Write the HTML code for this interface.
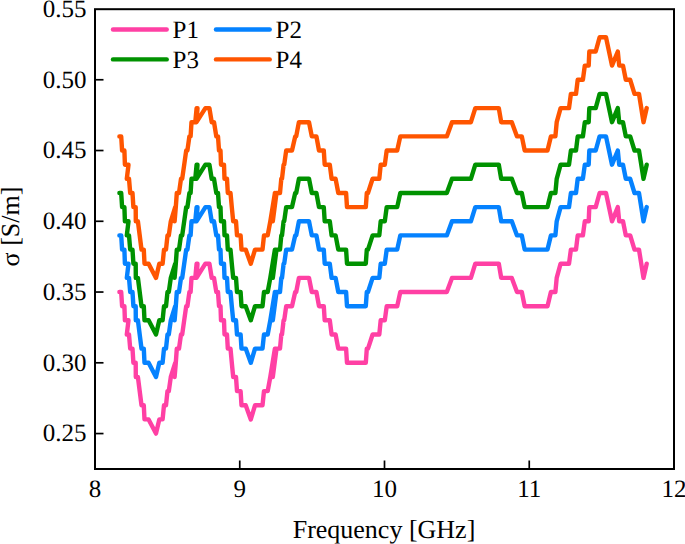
<!DOCTYPE html>
<html><head><meta charset="utf-8"><style>
html,body{margin:0;padding:0;background:#fff;}
svg{display:block;}
text{font-family:"Liberation Serif",serif;fill:#000;text-rendering:geometricPrecision;}
</style></head><body>
<svg width="685" height="544" viewBox="0 0 685 544">
<rect width="685" height="544" fill="#fff"/>
<g fill="none" stroke-width="4.4" stroke-linejoin="round" stroke-linecap="round">
<path d="M119.4 292.0 L121.2 292.0 L122.1 306.2 L124.4 306.2 L124.9 320.3 L128.5 320.3 L126.8 334.5 L129.0 334.5 L130.2 348.6 L132.5 348.6 L133.4 362.8 L135.7 362.8 L135.8 377.0 L137.9 377.0 L139.7 391.1 L141.5 405.3 L143.8 405.3 L144.5 419.4 L148.6 419.4 L156.0 433.6 L159.3 419.4 L162.6 419.4 L164.0 405.3 L166.0 405.3 L167.5 391.1 L168.8 391.1 L170.8 377.0 L175.2 362.8 L174.6 377.0 L175.8 362.8 L176.8 348.6 L179.0 348.6 L181.0 334.5 L182.2 334.5 L184.2 320.3 L186.2 306.2 L187.4 306.2 L189.4 292.0 L190.6 292.0 L191.5 277.9 L195.3 277.9 L196.6 263.7 L197.5 263.7 L196.5 277.9 L205.4 263.7 L209.4 263.7 L211.7 277.9 L214.0 277.9 L216.3 292.0 L218.0 292.0 L219.0 306.2 L220.5 306.2 L221.0 320.3 L224.0 320.3 L224.5 334.5 L227.0 334.5 L227.8 348.6 L230.5 348.6 L231.8 362.8 L233.2 377.0 L236.0 377.0 L237.0 391.1 L240.6 391.1 L241.5 405.3 L245.7 405.3 L250.8 419.4 L255.0 405.3 L262.5 405.3 L264.0 391.1 L267.7 391.1 L270.3 377.0 L274.9 348.6 L272.8 377.0 L276.5 348.6 L280.0 348.6 L281.3 334.5 L282.0 334.5 L283.6 320.3 L284.2 320.3 L286.2 306.2 L292.0 306.2 L295.2 292.0 L296.2 292.0 L298.9 277.9 L309.0 277.9 L311.8 292.0 L316.4 292.0 L319.0 306.2 L323.8 306.2 L324.7 320.3 L329.8 320.3 L331.6 334.5 L335.6 334.5 L338.3 348.6 L346.1 348.6 L347.0 362.8 L365.8 362.8 L366.8 348.6 L368.0 348.6 L372.6 334.5 L379.3 334.5 L380.7 320.3 L384.8 320.3 L386.7 306.2 L397.2 306.2 L400.3 292.0 L446.8 292.0 L452.0 277.9 L470.9 277.9 L475.3 263.7 L498.8 263.7 L501.2 277.9 L511.8 277.9 L517.0 292.0 L521.8 292.0 L524.7 306.2 L547.5 306.2 L550.9 292.0 L555.4 292.0 L556.7 277.9 L560.6 263.7 L569.0 263.7 L570.9 249.6 L576.0 249.6 L577.7 235.4 L582.9 235.4 L584.8 221.3 L588.7 221.3 L589.3 207.1 L595.7 207.1 L599.6 193.0 L606.0 193.0 L612.0 221.3 L617.8 207.1 L619.2 221.3 L623.0 221.3 L625.8 235.4 L630.2 235.4 L634.5 249.6 L639.0 249.6 L643.5 277.9 L646.7 263.7" stroke="#ff40a4"/>
<path d="M119.4 235.4 L121.2 235.4 L122.1 249.6 L124.4 249.6 L124.9 263.7 L128.5 263.7 L126.8 277.9 L129.0 277.9 L130.2 292.0 L132.5 292.0 L133.4 306.2 L135.7 306.2 L135.8 320.3 L137.9 320.3 L139.7 334.5 L141.5 348.6 L143.8 348.6 L144.5 362.8 L148.6 362.8 L156.0 377.0 L159.3 362.8 L162.6 362.8 L164.0 348.6 L166.0 348.6 L167.5 334.5 L168.8 334.5 L170.8 320.3 L175.2 306.2 L174.6 320.3 L175.8 306.2 L176.8 292.0 L179.0 292.0 L181.0 277.9 L182.2 277.9 L184.2 263.7 L186.2 249.6 L187.4 249.6 L189.4 235.4 L190.6 235.4 L191.5 221.3 L195.3 221.3 L196.6 207.1 L197.5 207.1 L196.5 221.3 L205.4 207.1 L209.4 207.1 L211.7 221.3 L214.0 221.3 L216.3 235.4 L218.0 235.4 L219.0 249.6 L220.5 249.6 L221.0 263.7 L224.0 263.7 L224.5 277.9 L227.0 277.9 L227.8 292.0 L230.5 292.0 L231.8 306.2 L233.2 320.3 L236.0 320.3 L237.0 334.5 L240.6 334.5 L241.5 348.6 L245.7 348.6 L250.8 362.8 L255.0 348.6 L262.5 348.6 L264.0 334.5 L267.7 334.5 L270.3 320.3 L274.9 292.0 L272.8 320.3 L276.5 292.0 L280.0 292.0 L281.3 277.9 L282.0 277.9 L283.6 263.7 L284.2 263.7 L286.2 249.6 L292.0 249.6 L295.2 235.4 L296.2 235.4 L298.9 221.3 L309.0 221.3 L311.8 235.4 L316.4 235.4 L319.0 249.6 L323.8 249.6 L324.7 263.7 L329.8 263.7 L331.6 277.9 L335.6 277.9 L338.3 292.0 L346.1 292.0 L347.0 306.2 L365.8 306.2 L366.8 292.0 L368.0 292.0 L372.6 277.9 L379.3 277.9 L380.7 263.7 L384.8 263.7 L386.7 249.6 L397.2 249.6 L400.3 235.4 L446.8 235.4 L452.0 221.3 L470.9 221.3 L475.3 207.1 L498.8 207.1 L501.2 221.3 L511.8 221.3 L517.0 235.4 L521.8 235.4 L524.7 249.6 L547.5 249.6 L550.9 235.4 L555.4 235.4 L556.7 221.3 L560.6 207.1 L569.0 207.1 L570.9 193.0 L576.0 193.0 L577.7 178.8 L582.9 178.8 L584.8 164.7 L588.7 164.7 L589.3 150.5 L595.7 150.5 L599.6 136.4 L606.0 136.4 L612.0 164.7 L617.8 150.5 L619.2 164.7 L623.0 164.7 L625.8 178.8 L630.2 178.8 L634.5 193.0 L639.0 193.0 L643.5 221.3 L646.7 207.1" stroke="#0582ff"/>
<path d="M119.4 193.0 L121.2 193.0 L122.1 207.1 L124.4 207.1 L124.9 221.3 L128.5 221.3 L126.8 235.4 L129.0 235.4 L130.2 249.6 L132.5 249.6 L133.4 263.7 L135.7 263.7 L135.8 277.9 L137.9 277.9 L139.7 292.0 L141.5 306.2 L143.8 306.2 L144.5 320.3 L148.6 320.3 L156.0 334.5 L159.3 320.3 L162.6 320.3 L164.0 306.2 L166.0 306.2 L167.5 292.0 L168.8 292.0 L170.8 277.9 L175.2 263.7 L174.6 277.9 L175.8 263.7 L176.8 249.6 L179.0 249.6 L181.0 235.4 L182.2 235.4 L184.2 221.3 L186.2 207.1 L187.4 207.1 L189.4 193.0 L190.6 193.0 L191.5 178.8 L195.3 178.8 L196.6 164.7 L197.5 164.7 L196.5 178.8 L205.4 164.7 L209.4 164.7 L211.7 178.8 L214.0 178.8 L216.3 193.0 L218.0 193.0 L219.0 207.1 L220.5 207.1 L221.0 221.3 L224.0 221.3 L224.5 235.4 L227.0 235.4 L227.8 249.6 L230.5 249.6 L231.8 263.7 L233.2 277.9 L236.0 277.9 L237.0 292.0 L240.6 292.0 L241.5 306.2 L245.7 306.2 L250.8 320.3 L255.0 306.2 L262.5 306.2 L264.0 292.0 L267.7 292.0 L270.3 277.9 L274.9 249.6 L272.8 277.9 L276.5 249.6 L280.0 249.6 L281.3 235.4 L282.0 235.4 L283.6 221.3 L284.2 221.3 L286.2 207.1 L292.0 207.1 L295.2 193.0 L296.2 193.0 L298.9 178.8 L309.0 178.8 L311.8 193.0 L316.4 193.0 L319.0 207.1 L323.8 207.1 L324.7 221.3 L329.8 221.3 L331.6 235.4 L335.6 235.4 L338.3 249.6 L346.1 249.6 L347.0 263.7 L365.8 263.7 L366.8 249.6 L368.0 249.6 L372.6 235.4 L379.3 235.4 L380.7 221.3 L384.8 221.3 L386.7 207.1 L397.2 207.1 L400.3 193.0 L446.8 193.0 L452.0 178.8 L470.9 178.8 L475.3 164.7 L498.8 164.7 L501.2 178.8 L511.8 178.8 L517.0 193.0 L521.8 193.0 L524.7 207.1 L547.5 207.1 L550.9 193.0 L555.4 193.0 L556.7 178.8 L560.6 164.7 L569.0 164.7 L570.9 150.5 L576.0 150.5 L577.7 136.4 L582.9 136.4 L584.8 122.2 L588.7 122.2 L589.3 108.1 L595.7 108.1 L599.6 93.9 L606.0 93.9 L612.0 122.2 L617.8 108.1 L619.2 122.2 L623.0 122.2 L625.8 136.4 L630.2 136.4 L634.5 150.5 L639.0 150.5 L643.5 178.8 L646.7 164.7" stroke="#009200"/>
<path d="M119.4 136.4 L121.2 136.4 L122.1 150.5 L124.4 150.5 L124.9 164.7 L128.5 164.7 L126.8 178.8 L129.0 178.8 L130.2 193.0 L132.5 193.0 L133.4 207.1 L135.7 207.1 L135.8 221.3 L137.9 221.3 L139.7 235.4 L141.5 249.6 L143.8 249.6 L144.5 263.7 L148.6 263.7 L156.0 277.9 L159.3 263.7 L162.6 263.7 L164.0 249.6 L166.0 249.6 L167.5 235.4 L168.8 235.4 L170.8 221.3 L175.2 207.1 L174.6 221.3 L175.8 207.1 L176.8 193.0 L179.0 193.0 L181.0 178.8 L182.2 178.8 L184.2 164.7 L186.2 150.5 L187.4 150.5 L189.4 136.4 L190.6 136.4 L191.5 122.2 L195.3 122.2 L196.6 108.1 L197.5 108.1 L196.5 122.2 L205.4 108.1 L209.4 108.1 L211.7 122.2 L214.0 122.2 L216.3 136.4 L218.0 136.4 L219.0 150.5 L220.5 150.5 L221.0 164.7 L224.0 164.7 L224.5 178.8 L227.0 178.8 L227.8 193.0 L230.5 193.0 L231.8 207.1 L233.2 221.3 L236.0 221.3 L237.0 235.4 L240.6 235.4 L241.5 249.6 L245.7 249.6 L250.8 263.7 L255.0 249.6 L262.5 249.6 L264.0 235.4 L267.7 235.4 L270.3 221.3 L274.9 193.0 L272.8 221.3 L276.5 193.0 L280.0 193.0 L281.3 178.8 L282.0 178.8 L283.6 164.7 L284.2 164.7 L286.2 150.5 L292.0 150.5 L295.2 136.4 L296.2 136.4 L298.9 122.2 L309.0 122.2 L311.8 136.4 L316.4 136.4 L319.0 150.5 L323.8 150.5 L324.7 164.7 L329.8 164.7 L331.6 178.8 L335.6 178.8 L338.3 193.0 L346.1 193.0 L347.0 207.1 L365.8 207.1 L366.8 193.0 L368.0 193.0 L372.6 178.8 L379.3 178.8 L380.7 164.7 L384.8 164.7 L386.7 150.5 L397.2 150.5 L400.3 136.4 L446.8 136.4 L452.0 122.2 L470.9 122.2 L475.3 108.1 L498.8 108.1 L501.2 122.2 L511.8 122.2 L517.0 136.4 L521.8 136.4 L524.7 150.5 L547.5 150.5 L550.9 136.4 L555.4 136.4 L556.7 122.2 L560.6 108.1 L569.0 108.1 L570.9 93.9 L576.0 93.9 L577.7 79.8 L582.9 79.8 L584.8 65.6 L588.7 65.6 L589.3 51.5 L595.7 51.5 L599.6 37.3 L606.0 37.3 L612.0 65.6 L617.8 51.5 L619.2 65.6 L623.0 65.6 L625.8 79.8 L630.2 79.8 L634.5 93.9 L639.0 93.9 L643.5 122.2 L646.7 108.1" stroke="#ff5500"/>
</g>
<g stroke="#000" stroke-width="1.7" fill="none"><line x1="239.75" y1="469" x2="239.75" y2="460.5"/><line x1="384.50" y1="469" x2="384.50" y2="460.5"/><line x1="529.25" y1="469" x2="529.25" y2="460.5"/><line x1="95" y1="433.56" x2="103.5" y2="433.56"/><line x1="95" y1="362.80" x2="103.5" y2="362.80"/><line x1="95" y1="292.04" x2="103.5" y2="292.04"/><line x1="95" y1="221.28" x2="103.5" y2="221.28"/><line x1="95" y1="150.52" x2="103.5" y2="150.52"/><line x1="95" y1="79.76" x2="103.5" y2="79.76"/></g>
<rect x="95" y="9.2" width="579" height="459.8" fill="none" stroke="#000" stroke-width="2"/>
<g font-size="25"><text x="86.4" y="441.3" text-anchor="end">0.25</text><text x="86.4" y="370.5" text-anchor="end">0.30</text><text x="86.4" y="299.7" text-anchor="end">0.35</text><text x="86.4" y="229.0" text-anchor="end">0.40</text><text x="86.4" y="158.2" text-anchor="end">0.45</text><text x="86.4" y="87.5" text-anchor="end">0.50</text><text x="86.4" y="16.7" text-anchor="end">0.55</text><text x="95.0" y="497" text-anchor="middle">8</text><text x="239.8" y="497" text-anchor="middle">9</text><text x="384.5" y="497" text-anchor="middle">10</text><text x="529.2" y="497" text-anchor="middle">11</text><text x="674.0" y="497" text-anchor="middle">12</text></g>
<g stroke-width="4.4" stroke-linecap="round">
<line x1="113" y1="29.5" x2="166.7" y2="29.5" stroke="#ff40a4"/>
<line x1="216" y1="29.5" x2="269.7" y2="29.5" stroke="#0582ff"/>
<line x1="113" y1="59.4" x2="166.7" y2="59.4" stroke="#009200"/>
<line x1="216" y1="59.4" x2="269.7" y2="59.4" stroke="#ff5500"/>
</g>
<g font-size="25">
<text x="172.5" y="37.6">P1</text><text x="275.5" y="37.6">P2</text>
<text x="172.5" y="67.9">P3</text><text x="275.5" y="67.9">P4</text>
</g>
<text x="384" y="538.3" font-size="26" text-anchor="middle">Frequency [GHz]</text>
<text transform="translate(18.6 226.5) rotate(-90)" font-size="26" text-anchor="middle">σ [S/m]</text>
</svg>
</body></html>
